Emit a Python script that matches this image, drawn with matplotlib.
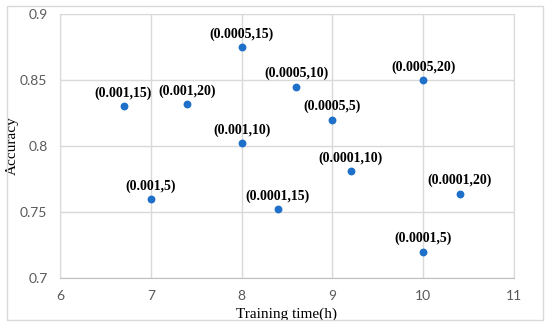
import matplotlib
matplotlib.use("Agg")
import matplotlib.pyplot as plt
from matplotlib.patches import Rectangle

labels = ["(0.0005,15)", "(0.001,15)", "(0.001,20)", "(0.001,10)", "(0.0005,10)",
          "(0.0005,20)", "(0.0005,5)", "(0.0001,10)", "(0.0001,20)", "(0.0001,5)",
          "(0.001,5)", "(0.0001,15)"]
train_time = [8.0, 6.7, 7.4, 8.0, 8.6, 10.0, 9.0, 9.2, 10.4, 10.0, 7.0, 8.4]
accuracy = [0.875, 0.830, 0.832, 0.802, 0.845, 0.850, 0.820, 0.781, 0.764, 0.720, 0.760, 0.752]
x_ticks = [6, 7, 8, 9, 10, 11]
y_ticks = [0.7, 0.75, 0.8, 0.85, 0.9]
y_ticklabels = ["0.7", "0.75", "0.8", "0.85", "0.9"]

fig = plt.figure(figsize=(5.5, 3.27), dpi=100)
fig.patches.append(Rectangle((7/550, 1-320/327), 536/550, 314/327, transform=fig.transFigure,
                             fill=False, edgecolor="#d9d9d9", linewidth=1.0))
ax = fig.add_axes([60/550, 1-278/327, 454/550, 264/327])
ax.scatter(train_time, accuracy, s=32, color="#1f70c8", zorder=3, linewidths=0)
for x, y, t in zip(train_time, accuracy, labels):
    ax.annotate(t, (x, y), xytext=(0, 4.5), textcoords="offset points", ha="center", va="bottom",
                fontsize=10, fontweight="bold", family="Liberation Serif", color="black")
ax.set_xlim(6, 11)
ax.set_ylim(0.7, 0.9)
ax.set_xticks(x_ticks)
ax.set_yticks(y_ticks)
ax.set_yticklabels(y_ticklabels)
ax.grid(True, color="#d9d9d9", linewidth=1.0)
ax.set_axisbelow(True)
for s in ax.spines.values():
    s.set_color("#d9d9d9")
ax.spines["bottom"].set_color("#bfbfbf")
ax.tick_params(length=0, labelsize=10, labelcolor="#595959", pad=9)
for lab in ax.get_xticklabels() + ax.get_yticklabels():
    lab.set_family("Lato")
ax.set_xlabel("Training time(h)", fontsize=11, family="Liberation Serif")
ax.set_ylabel("Accuracy", fontsize=11, family="Liberation Serif")
ax.xaxis.set_label_coords(0.5, -36/264, transform=ax.transAxes)
ax.yaxis.set_label_coords(-48/454, 0.5, transform=ax.transAxes)
ax.xaxis.label.set_va("center")
ax.yaxis.label.set_va("center")
fig.savefig("out.png", dpi=100)
